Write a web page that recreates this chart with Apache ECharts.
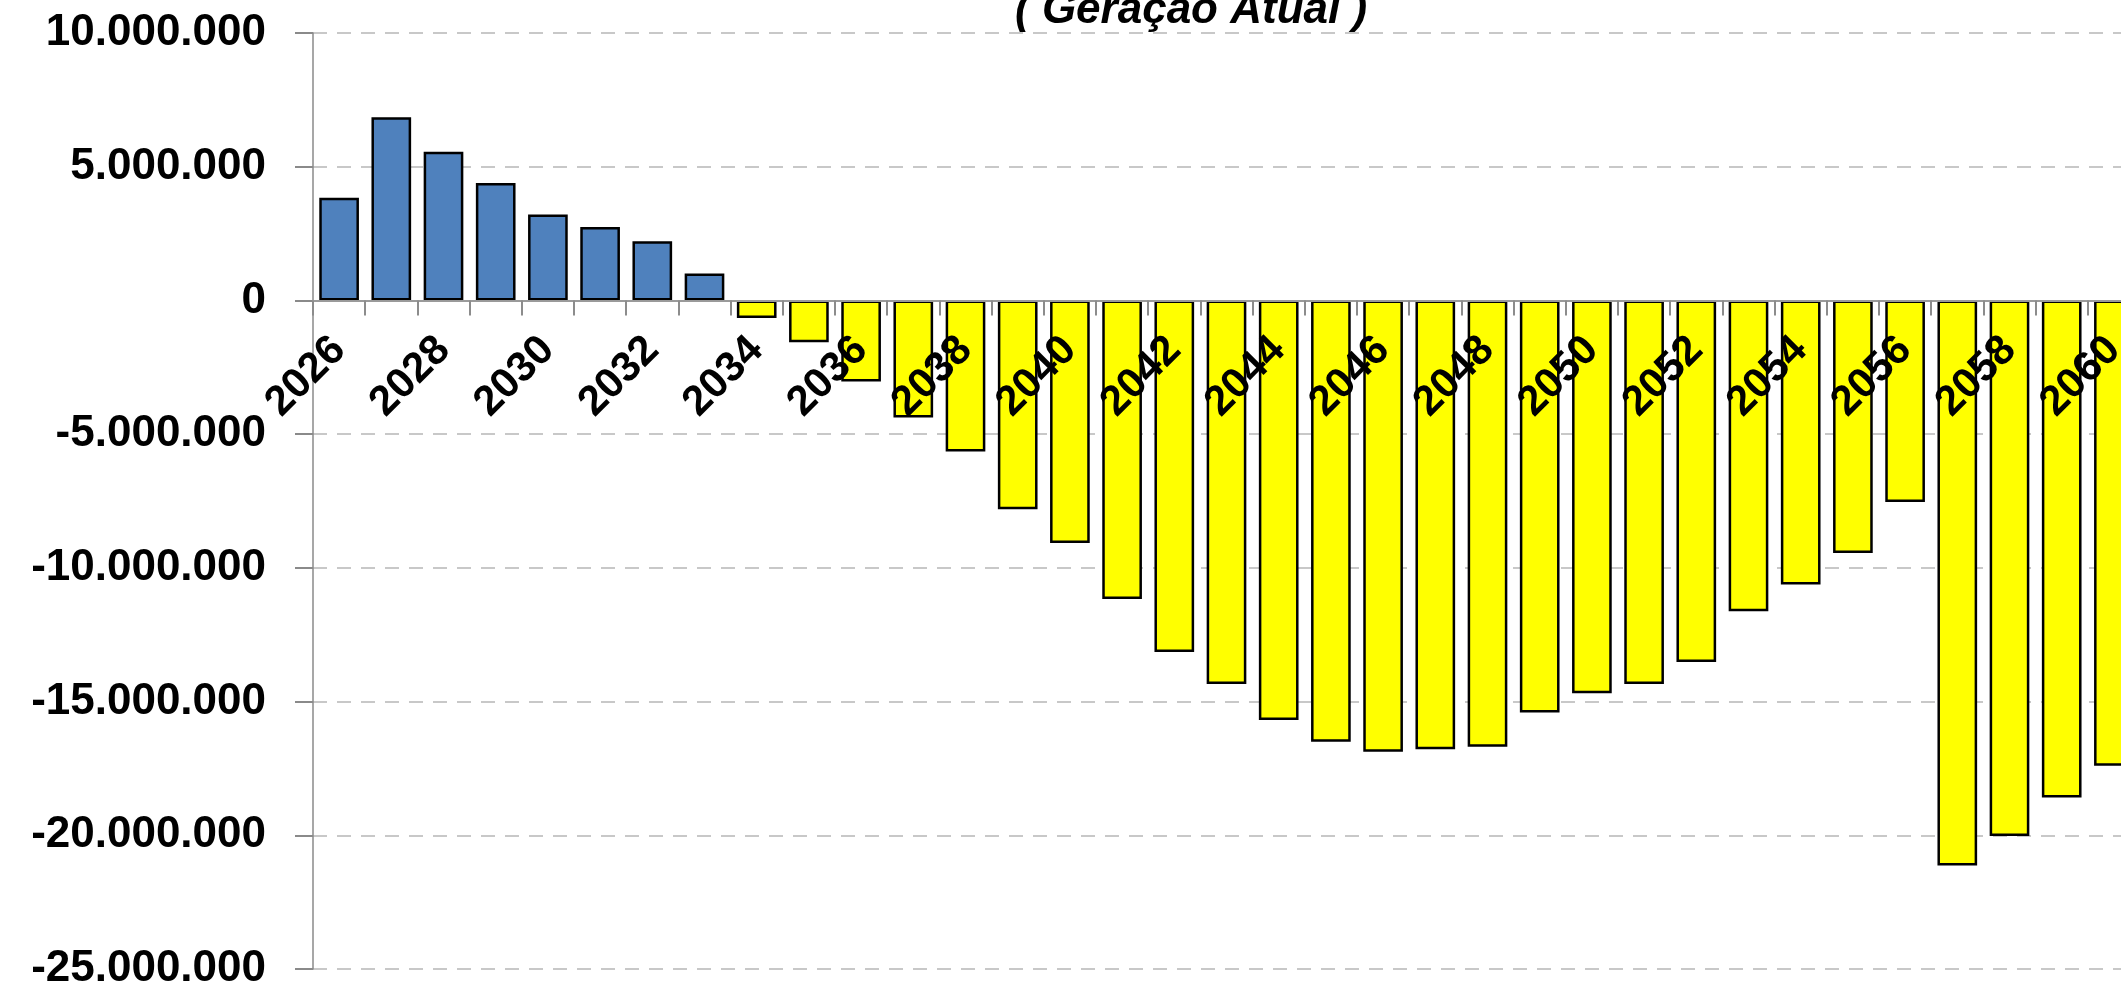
<!DOCTYPE html>
<html>
<head>
<meta charset="utf-8">
<script src="https://cdn.jsdelivr.net/npm/echarts@6/dist/echarts.min.js"></script>
<style>
  html, body { margin: 0; padding: 0; background: #ffffff; }
  #chart { width: 2121px; height: 990px; }
</style>
</head>
<body>
<div id="chart"></div>
<script>
// Years (categories)
var years = ['2026','2027','2028','2029','2030','2031','2032','2033','2034','2035',
             '2036','2037','2038','2039','2040','2041','2042','2043','2044','2045',
             '2046','2047','2048','2049','2050','2051','2052','2053','2054','2055',
             '2056','2057','2058','2059','2060'];

// Balance values
var saldo = [3840000, 6850000, 5560000, 4390000, 3210000, 2750000, 2210000, 1010000, -660000, -1560000,
             -3030000, -4380000, -5650000, -7810000, -9070000, -11160000, -13150000, -14340000, -15690000, -16500000,
             -16880000, -16780000, -16690000, -15410000, -14690000, -14340000, -13520000, -11620000, -10620000, -9440000,
             -7540000, -21130000, -20030000, -18590000, -17400000];

// Y axis ticks
var yMin = -25000000, yMax = 10000000, yStep = 5000000;

var subtitle = '( Geração Atual )';

function fmt(v) {
  var s = Math.abs(v).toString().replace(/\B(?=(\d{3})+(?!\d))/g, '.');
  return (v < 0 ? '-' : '') + s;
}

var W = 2121, H = 990;
var gridTop = 33, gridBottom = 21;
var gridHeight = H - gridTop - gridBottom;
// place the category axis at value 0 (distance from the grid bottom, derived from the value scale)
var zeroOffset = -gridHeight * (0 - yMin) / (yMax - yMin);

var chart = echarts.init(document.getElementById('chart'), null, { renderer: 'canvas' });
chart.setOption({
  animation: false,
  backgroundColor: '#ffffff',
  title: {
    text: subtitle,
    left: 1015,
    top: -11,
    padding: 0,
    textStyle: {
      fontFamily: 'Liberation Sans',
      fontSize: 44,
      fontWeight: 'bold',
      fontStyle: 'italic',
      color: '#000000'
    }
  },
  grid: { left: 313, right: -19, top: gridTop, bottom: gridBottom, containLabel: false, outerBoundsMode: 'none' },
  xAxis: {
    type: 'category',
    data: years,
    position: 'bottom',
    offset: zeroOffset,
    z: 10,
    axisLine: { onZero: false, lineStyle: { color: '#9a9a9a', width: 2 } },
    axisTick: { show: true, interval: 0, length: 15, lineStyle: { color: '#8c8c8c', width: 2 } },
    axisLabel: {
      interval: 1,
      rotate: 45,
      margin: 43,
      fontFamily: 'Liberation Sans',
      fontSize: 42,
      fontWeight: 'bold',
      color: '#000000'
    },
    splitLine: { show: false }
  },
  yAxis: {
    type: 'value',
    min: yMin,
    max: yMax,
    interval: yStep,
    axisLine: { show: true, lineStyle: { color: '#8a8a8a', width: 1.5 } },
    axisTick: { show: true, length: 18, lineStyle: { color: '#8a8a8a', width: 2 } },
    axisLabel: {
      margin: 47,
      fontFamily: 'Liberation Sans',
      fontSize: 44,
      fontWeight: 'bold',
      color: '#000000',
      formatter: fmt
    },
    splitLine: { show: true, lineStyle: { color: '#c8c8c8', width: 2, type: [14, 10] } }
  },
  series: [{
    type: 'bar',
    data: saldo,
    barCategoryGap: '24%',
    itemStyle: {
      color: function (p) { return p.value >= 0 ? '#4F81BD' : '#FFFF00'; },
      borderColor: '#000000',
      borderWidth: 2.5
    }
  }]
});
</script>
</body>
</html>
